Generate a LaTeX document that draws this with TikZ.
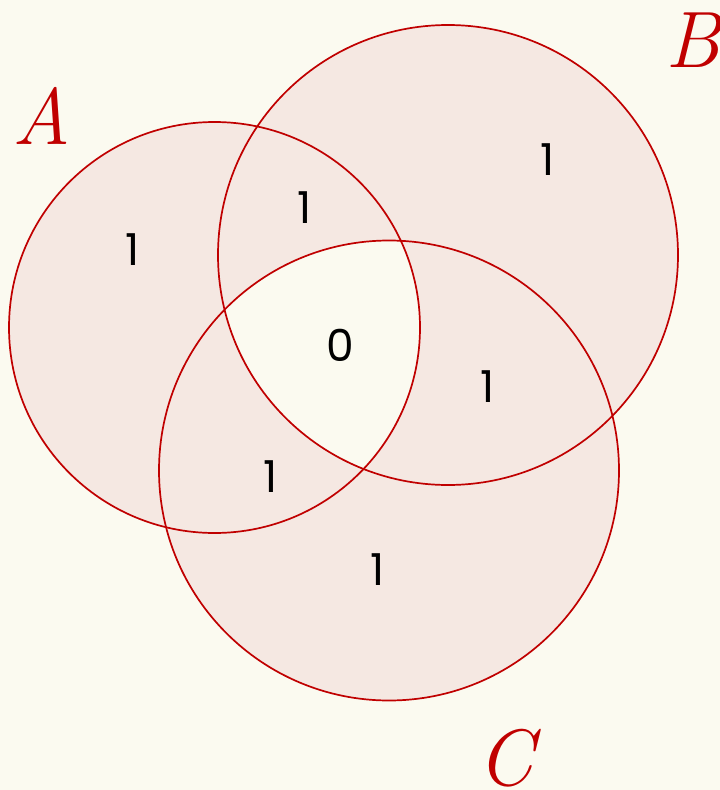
\documentclass[tikz,border=0pt]{standalone}
\usepackage{fontspec}
\setsansfont{Poppins}
\usepackage{tikz}
\usetikzlibrary{positioning, calc}
\definecolor{bgcolor}{HTML}{FBFAF0}
\definecolor{setfill}{HTML}{F5E8E2}
\definecolor{setred}{HTML}{C00000}

\begin{document}
\begin{tikzpicture}[x=1pt, y=-1pt,
  setlabel/.style={text=setred, font=\itshape\fontsize{80}{80}\selectfont, inner sep=0pt},
  val/.style={font=\sffamily\fontsize{44}{44}\selectfont, inner sep=0pt},
  rim/.style={draw=setred, line width=1.7pt},
]
  \fill[bgcolor] (0,0) rectangle (720,790);
  \useasboundingbox (0,0) rectangle (720,790);
  % the three sets
  \coordinate (ca) at (214.5,327.5);
  \coordinate (cb) at (448,255);
  \coordinate (cc) at (389,470.5);
  \fill[setfill] (ca) circle (205.5) (cb) circle (230) (cc) circle (230);
  \begin{scope}
    \clip (ca) circle (205.5);
    \clip (cb) circle (230);
    \fill[bgcolor] (cc) circle (230);
  \end{scope}
  \draw[rim] (ca) circle (205.5);
  \draw[rim] (cb) circle (230);
  \draw[rim] (cc) circle (230);

  \node[setlabel] (la) at (42,116) {A};
  \node[setlabel] (lb) at (693,40) {B};
  \node[setlabel] (lc) at (505,758) {C};

  \node[val] (na) at (133,250) {1};
  \node[val] (nab) at (305,208) {1};
  \node[val] (nb) at (548,160) {1};
  \node[val] (nabc) at (340,345) {0};
  \node[val] (nbc) at (488,387) {1};
  \node[val] (nac) at (271,477) {1};
  \node[val] (nc) at (378,570) {1};
\end{tikzpicture}
\end{document}
